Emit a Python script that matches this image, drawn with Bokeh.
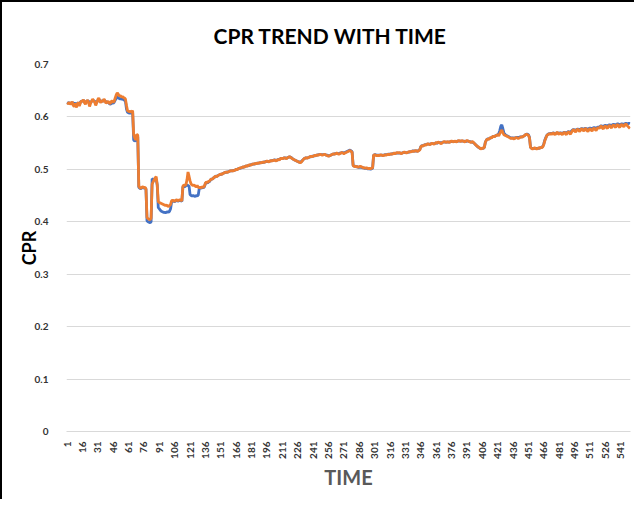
import math
from bokeh.plotting import figure
from bokeh.models import FixedTicker, ColumnDataSource
from bokeh.embed import file_html
from bokeh.resources import INLINE

# ---- data ----
time_idx = list(range(1, 551))
x_ticks = list(range(1, 542, 15))
y_ticks = [0, 0.1, 0.2, 0.3, 0.4, 0.5, 0.6, 0.7]
y_tick_labels = ["0", "0.1", "0.2", "0.3", "0.4", "0.5", "0.6", "0.7"]
chart_title = "CPR TREND WITH TIME"

cpr_orange = [
    .627, .625, .628, .624, .626, .629, .622, .620, .626, .618,
    .624, .628, .621, .626, .631, .629, .633, .627, .624, .630,
    .632, .628, .620, .626, .630, .634, .631, .628, .622, .627,
    .633, .636, .630, .627, .632, .629, .634, .631, .626, .628,
    .630, .627, .625, .629, .631, .628, .630, .636, .642, .646,
    .643, .640, .641, .638, .639, .637, .636, .634, .622, .612,
    .611, .610, .611, .609, .612, .566, .560, .556, .567, .565,
    .468, .465, .464, .466, .467, .465, .466, .463, .408, .406,
    .405, .404, .407, .472, .476, .480, .484, .486, .470, .438,
    .437, .436, .435, .434, .433, .432, .431, .432, .430, .429,
    .431, .433, .440, .441, .440, .439, .441, .442, .440, .441,
    .442, .441, .440, .468, .470, .469, .471, .480, .495, .487,
    .478, .472, .470, .469, .470, .468, .467, .469, .466, .465,
    .466, .465, .467, .466, .468, .474, .476, .475, .477, .478,
    .480, .482, .481, .484, .486, .487, .486, .488, .489, .490,
    .491, .490, .492, .493, .494, .495, .494, .495, .496, .497,
    .497, .498, .497, .498, .499, .500, .499, .501, .502, .503,
    .503, .504, .505, .504, .506, .507, .506, .508, .509, .508,
    .509, .510, .510, .511, .510, .512, .511, .512, .513, .512,
    .513, .514, .513, .514, .515, .516, .515, .514, .516, .517,
    .516, .517, .518, .517, .516, .518, .519, .518, .520, .521,
    .520, .521, .522, .521, .520, .522, .523, .524, .523, .521,
    .520, .519, .518, .517, .516, .515, .514, .513, .513, .515,
    .518, .520, .521, .522, .521, .522, .523, .524, .525, .524,
    .525, .526, .527, .526, .528, .527, .528, .529, .528, .527,
    .528, .529, .528, .527, .526, .525, .526, .527, .528, .529,
    .530, .529, .530, .531, .530, .529, .530, .531, .532, .531,
    .530, .531, .532, .533, .534, .535, .536, .534, .533, .507,
    .506, .505, .506, .505, .504, .505, .506, .505, .504, .503,
    .503, .502, .503, .502, .501, .502, .501, .502, .503, .527,
    .528, .527, .526, .527, .526, .527, .528, .527, .526, .527,
    .528, .527, .528, .529, .528, .529, .530, .529, .530, .531,
    .530, .531, .532, .531, .532, .531, .530, .531, .532, .533,
    .532, .531, .532, .533, .534, .533, .534, .535, .534, .535,
    .536, .535, .534, .536, .537, .543, .545, .544, .546, .547,
    .546, .548, .549, .548, .547, .549, .550, .549, .548, .550,
    .551, .550, .552, .551, .550, .549, .551, .552, .553, .552,
    .551, .553, .552, .551, .553, .554, .553, .552, .554, .553,
    .552, .554, .555, .554, .553, .555, .554, .553, .552, .554,
    .555, .554, .553, .552, .551, .553, .552, .550, .548, .546,
    .544, .543, .541, .540, .539, .541, .540, .542, .552, .556,
    .558, .557, .559, .561, .560, .562, .563, .562, .564, .565,
    .566, .564, .568, .572, .575, .570, .566, .565, .564, .563,
    .562, .561, .560, .559, .560, .559, .558, .560, .561, .560,
    .559, .560, .561, .562, .561, .563, .564, .566, .567, .566,
    .565, .560, .542, .540, .539, .540, .541, .540, .539, .540,
    .541, .540, .542, .541, .543, .548, .555, .560, .565, .566,
    .568, .567, .569, .566, .570, .568, .566, .569, .571, .568,
    .567, .570, .568, .566, .569, .571, .568, .566, .570, .572,
    .569, .567, .571, .574, .576, .573, .571, .575, .577, .574,
    .572, .576, .578, .575, .573, .577, .578, .574, .572, .576,
    .578, .575, .573, .577, .579, .576, .574, .578, .580, .578,
    .581, .583, .579, .577, .581, .583, .580, .578, .582, .584,
    .581, .579, .583, .585, .582, .580, .584, .586, .582, .580,
    .584, .586, .583, .581, .585, .587, .584, .582, .580, .578,
]

cpr_blue = [
    .628, .626, .627, .626, .625, .628, .626, .624, .627, .622,
    .625, .627, .624, .628, .630, .630, .632, .629, .627, .629,
    .631, .630, .626, .627, .630, .632, .631, .630, .627, .628,
    .631, .634, .631, .629, .631, .630, .632, .631, .629, .628,
    .628, .626, .624, .625, .627, .626, .628, .632, .636, .638,
    .636, .635, .634, .635, .633, .634, .632, .630, .615, .609,
    .608, .607, .608, .607, .609, .556, .554, .555, .558, .562,
    .466, .464, .463, .465, .466, .464, .465, .462, .402, .400,
    .399, .398, .400, .482, .481, .480, .480, .481, .470, .427,
    .425, .422, .420, .419, .418, .418, .417, .418, .419, .418,
    .420, .425, .438, .440, .439, .438, .440, .441, .439, .440,
    .441, .440, .439, .466, .468, .467, .469, .470, .469, .468,
    .452, .450, .449, .450, .449, .448, .450, .449, .451, .464,
    .465, .464, .466, .465, .467, .473, .475, .474, .476, .477,
    .480, .481, .482, .484, .485, .487, .487, .488, .489, .490,
    .490, .491, .492, .493, .494, .494, .495, .495, .496, .497,
    .497, .497, .498, .498, .499, .500, .500, .501, .502, .502,
    .503, .504, .504, .505, .506, .506, .507, .507, .508, .509,
    .509, .510, .510, .510, .511, .511, .512, .512, .512, .513,
    .513, .513, .514, .514, .515, .515, .515, .515, .516, .516,
    .517, .517, .518, .518, .517, .518, .519, .519, .520, .521,
    .521, .521, .522, .522, .521, .522, .523, .524, .523, .522,
    .520, .519, .518, .517, .516, .515, .514, .514, .514, .516,
    .518, .520, .521, .522, .522, .522, .523, .524, .524, .525,
    .525, .526, .526, .527, .527, .528, .528, .529, .528, .528,
    .528, .528, .528, .527, .527, .526, .526, .527, .528, .529,
    .529, .530, .530, .530, .530, .530, .531, .531, .532, .532,
    .531, .532, .533, .534, .535, .536, .537, .535, .534, .508,
    .506, .506, .505, .505, .504, .504, .504, .504, .503, .503,
    .502, .502, .502, .501, .501, .501, .500, .501, .502, .527,
    .528, .528, .527, .527, .527, .527, .527, .527, .527, .527,
    .528, .528, .528, .529, .529, .529, .529, .530, .530, .530,
    .530, .531, .531, .531, .531, .531, .531, .531, .532, .532,
    .532, .532, .532, .533, .533, .534, .534, .535, .535, .535,
    .535, .535, .535, .536, .538, .543, .545, .545, .546, .547,
    .547, .548, .548, .548, .548, .549, .549, .549, .549, .550,
    .550, .550, .551, .551, .551, .551, .551, .552, .552, .552,
    .552, .552, .552, .552, .553, .553, .553, .553, .553, .553,
    .553, .554, .554, .554, .554, .554, .554, .554, .553, .553,
    .554, .554, .553, .553, .552, .552, .551, .550, .548, .546,
    .544, .542, .541, .540, .540, .540, .540, .542, .552, .556,
    .558, .558, .559, .560, .561, .562, .563, .563, .564, .565,
    .566, .568, .574, .582, .585, .578, .570, .567, .565, .564,
    .563, .562, .561, .560, .560, .560, .560, .560, .561, .561,
    .561, .561, .562, .562, .562, .563, .564, .566, .567, .567,
    .566, .561, .542, .540, .540, .540, .540, .540, .540, .540,
    .540, .541, .541, .542, .544, .549, .556, .561, .565, .567,
    .568, .568, .569, .568, .570, .569, .568, .569, .570, .569,
    .569, .570, .569, .569, .570, .571, .570, .570, .571, .572,
    .571, .571, .573, .575, .576, .575, .575, .576, .577, .576,
    .576, .577, .578, .577, .577, .578, .578, .577, .577, .578,
    .579, .578, .578, .579, .580, .579, .579, .580, .581, .580,
    .582, .583, .582, .582, .583, .584, .583, .583, .584, .585,
    .584, .584, .585, .586, .585, .585, .586, .587, .586, .585,
    .586, .587, .586, .586, .587, .588, .587, .587, .588, .587,
]

FONT = "Lato"

src = ColumnDataSource(data=dict(t=time_idx, blue=cpr_blue, orange=cpr_orange))

p = figure(
    frame_width=564, frame_height=367,
    min_border_left=64, min_border_right=4, min_border_top=62, min_border_bottom=68,
    x_range=(0.5, len(time_idx) + 0.5), y_range=(0, 0.7),
    output_backend="svg", toolbar_location=None,
    title=chart_title,
)
p.styles = {"border-left": "2px solid black", "border-top": "2px solid black"}

p.line("t", "blue", source=src, line_color="#4472C4", line_width=2.8)
p.line("t", "orange", source=src, line_color="#ED7D31", line_width=2.8)

# title
p.title.align = "left"
p.title.text_font = FONT
p.title.text_font_style = "bold"
p.title.text_font_size = "21px"
p.title.text_color = "#000000"
p.title.offset = 147
p.title.standoff = 33

p.outline_line_color = None
p.background_fill_color = "white"
p.border_fill_color = "white"

# grid
p.xgrid.grid_line_color = None
p.ygrid.grid_line_color = "#d9d9d9"
p.ygrid.grid_line_width = 1
p.ygrid.ticker = FixedTicker(ticks=y_ticks)

# y axis
p.yaxis.ticker = FixedTicker(ticks=y_ticks)
p.yaxis.major_label_overrides = {t: l for t, l in zip(y_ticks, y_tick_labels)}
p.yaxis.axis_line_color = None
p.yaxis.major_tick_line_color = None
p.yaxis.minor_tick_line_color = None
p.yaxis.major_label_text_font = FONT
p.yaxis.major_label_text_font_style = "bold"
p.yaxis.major_label_text_font_size = "10px"
p.yaxis.major_label_text_color = "#333333"
p.yaxis.major_label_standoff = 12
p.yaxis.axis_label = "CPR"
p.yaxis.axis_label_text_font = FONT
p.yaxis.axis_label_text_font_style = "bold"
p.yaxis.axis_label_text_font_size = "18px"
p.yaxis.axis_label_text_color = "#000000"
p.yaxis.axis_label_standoff = -8

# x axis
p.xaxis.ticker = FixedTicker(ticks=x_ticks)
p.xaxis.axis_line_color = "#d9d9d9"
p.xaxis.major_tick_line_color = None
p.xaxis.minor_tick_line_color = None
p.xaxis.major_label_orientation = math.pi / 2
p.xaxis.major_label_text_font = FONT
p.xaxis.major_label_text_font_style = "bold"
p.xaxis.major_label_text_font_size = "10px"
p.xaxis.major_label_text_color = "#333333"
p.xaxis.major_label_standoff = 4
p.xaxis.axis_label = "TIME"
p.xaxis.axis_label_text_font = FONT
p.xaxis.axis_label_text_font_style = "bold"
p.xaxis.axis_label_text_font_size = "20px"
p.xaxis.axis_label_text_color = "#595959"
p.xaxis.axis_label_standoff = 3

open("out.html", "w").write(file_html(p, INLINE))
